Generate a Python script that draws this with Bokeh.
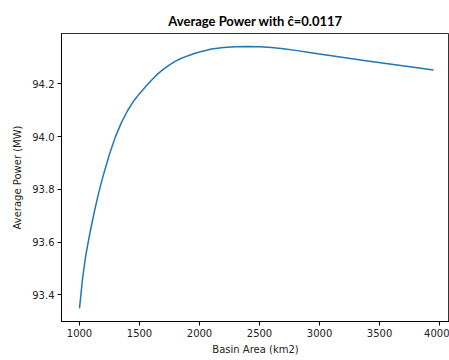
from bokeh.plotting import figure
from bokeh.models import Range1d, FixedTicker, PrintfTickFormatter
from bokeh.embed import file_html
from bokeh.resources import INLINE

basin_area = [1000, 1025, 1050, 1075, 1100, 1125, 1150, 1175, 1200, 1250, 1300,
              1350, 1400, 1450, 1500, 1550, 1600, 1650, 1700, 1750, 1800, 1850,
              1900, 1950, 2000, 2100, 2200, 2300, 2400, 2500, 2600, 2700, 2800,
              2900, 3000, 3200, 3400, 3600, 3800, 3950]
avg_power = [93.349, 93.460, 93.543, 93.607, 93.664, 93.718, 93.768, 93.814,
             93.856, 93.934, 94.000, 94.054, 94.098, 94.134, 94.163, 94.189,
             94.214, 94.237, 94.256, 94.272, 94.286, 94.297, 94.306, 94.314,
             94.321, 94.332, 94.338, 94.341, 94.342, 94.341, 94.338, 94.333,
             94.327, 94.320, 94.313, 94.300, 94.287, 94.274, 94.262, 94.253]
x_ticks = [1000, 1500, 2000, 2500, 3000, 3500, 4000]
y_ticks = [93.4, 93.6, 93.8, 94.0, 94.2]

p = figure(width=449, height=360, output_backend="svg", toolbar_location=None,
           x_range=Range1d(850, 4083), y_range=Range1d(93.299, 94.391),
           title="Average Power with \u0109=0.0117")
p.min_border_left = 61
p.min_border_right = 0
p.min_border_top = 33
p.min_border_bottom = 39

p.title.align = "center"
p.title.text_font = "Lato"
p.title.text_font_style = "bold"
p.title.text_font_size = "13px"
p.title.text_color = "black"

p.line(basin_area, avg_power, line_color="#1f77b4", line_width=1.5,
       line_join="round")

p.grid.visible = False
p.outline_line_color = "black"
p.outline_line_width = 1
p.outline_line_alpha = 0.8

for ax in (p.xaxis[0], p.yaxis[0]):
    ax.major_label_text_font = "DejaVu Sans"
    ax.major_label_text_font_size = "10px"
    ax.major_label_text_color = "#222222"
    ax.axis_label_text_font = "DejaVu Sans"
    ax.axis_label_text_font_size = "10px"
    ax.axis_label_text_font_style = "normal"
    ax.axis_label_text_color = "#222222"
    ax.minor_tick_line_color = None
    ax.major_tick_in = 0
    ax.major_tick_out = 4
    ax.major_label_standoff = 3
    ax.axis_line_color = "black"
    ax.major_tick_line_color = "black"

p.xaxis.ticker = FixedTicker(ticks=x_ticks)
p.yaxis.ticker = FixedTicker(ticks=y_ticks)
p.yaxis.formatter = PrintfTickFormatter(format="%.1f")
p.xaxis.axis_label = "Basin Area (km2)"
p.yaxis.axis_label = "Average Power (MW)"
p.xaxis.axis_label_standoff = 4
p.yaxis.axis_label_standoff = 6

open("out.html", "w").write(file_html(p, INLINE))
